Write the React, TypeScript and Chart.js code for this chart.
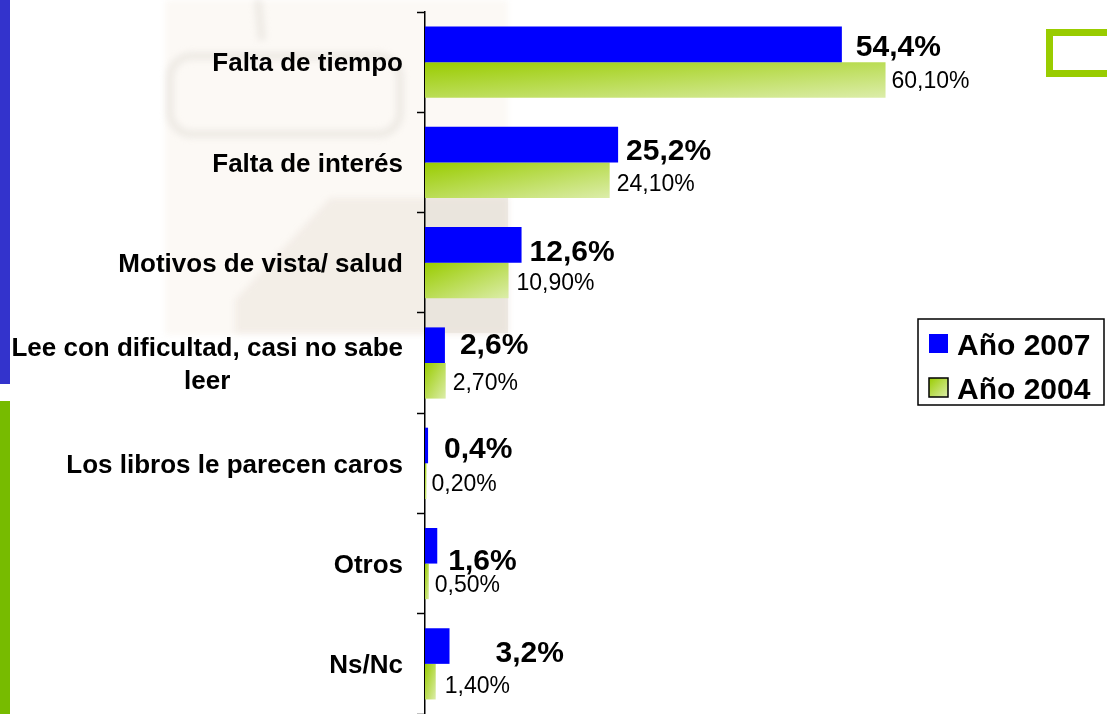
import { useEffect, useRef } from "react";
import { Chart, registerables } from "chart.js";

Chart.register(...registerables);

const categories: (string | string[])[] = [
  "Falta de tiempo",
  "Falta de interés",
  "Motivos de vista/ salud",
  ["Lee con dificultad, casi no sabe", "leer"],
  "Los libros le parecen caros",
  "Otros",
  "Ns/Nc",
];
const values2007 = [54.4, 25.2, 12.6, 2.6, 0.4, 1.6, 3.2];
const values2004 = [60.1, 24.1, 10.9, 2.7, 0.2, 0.5, 1.4];
const seriesNames = ["Año 2007", "Año 2004"];

// label placement (style): [dx from bar end, dy from bar centre]
const labelShift2007 = [[14, 1], [8, 5], [8, 5], [15, -2], [16, 2], [11, 13], [46, 5]];
const labelShift2004 = [[6, 0], [7, 3], [8, 1], [7, 1], [5, 2], [6, 2], [9, 3]];

const FONT = '"Liberation Sans", Arial, Helvetica, sans-serif';
const BLUE = "#0000ff";
const G0 = "#99cc00";
const G1 = "#dcedaa";
const CAP = 0.716;

const fmt = (v: number, d: number) => v.toFixed(d).replace(".", ",") + "%";

function diagGradient(ctx: CanvasRenderingContext2D, left: number, top: number, w: number, h: number) {
  const ww = Math.max(w, 1);
  const hh = Math.max(h, 1);
  const c = 2 / (1 / (ww * ww) + 1 / (hh * hh));
  const g = ctx.createLinearGradient(left, top, left + c / ww, top + c / hh);
  g.addColorStop(0, G0);
  g.addColorStop(1, G1);
  return g;
}

// draw text with its cap-height centred on y
function capText(ctx: CanvasRenderingContext2D, t: string, x: number, y: number, size: number) {
  ctx.fillText(t, x, y + (size * CAP) / 2);
}

const decorPlugin = {
  id: "decor",
  beforeDraw(chart: any) {
    const ctx: CanvasRenderingContext2D = chart.ctx;
    ctx.save();
    ctx.fillStyle = "#ffffff";
    ctx.fillRect(0, 0, chart.width, chart.height);
    // faint watermark
    ctx.filter = "blur(3px)";
    ctx.fillStyle = "rgba(250,245,238,0.6)";
    ctx.fillRect(165, 0, 343, 335);
    ctx.strokeStyle = "rgba(222,218,210,0.45)";
    ctx.lineWidth = 8;
    ctx.beginPath();
    (ctx as any).roundRect(170, 56, 230, 78, 22);
    ctx.stroke();
    ctx.beginPath();
    ctx.moveTo(258, 0);
    ctx.lineTo(262, 40);
    ctx.stroke();
    ctx.fillStyle = "rgba(232,225,216,0.45)";
    ctx.beginPath();
    ctx.moveTo(330, 198);
    ctx.lineTo(508, 198);
    ctx.lineTo(508, 333);
    ctx.lineTo(235, 333);
    ctx.lineTo(235, 300);
    ctx.closePath();
    ctx.fill();
    ctx.filter = "none";
    ctx.fillStyle = "rgba(225,218,208,0.45)";
    ctx.fillRect(426, 198, 82, 135);
    // left stripes
    ctx.fillStyle = "#3333cc";
    ctx.fillRect(0, 0, 10, 384);
    ctx.fillStyle = "#77bb00";
    ctx.fillRect(0, 401, 10, 313);
    // top-right green frame
    ctx.strokeStyle = "#99cc00";
    ctx.lineWidth = 7;
    ctx.strokeRect(1049.5, 32.5, 80, 41);
    ctx.restore();
  },
  beforeDatasetsDraw(chart: any) {
    const meta = chart.getDatasetMeta(1);
    meta.data.forEach((el: any) => {
      const p = el.getProps(["x", "y", "base", "height"], true);
      const left = Math.min(p.base, p.x);
      const w = Math.abs(p.x - p.base);
      const top = p.y - p.height / 2;
      el.options.backgroundColor = diagGradient(chart.ctx, left, top, w, p.height);
    });
  },
  afterDraw(chart: any) {
    const ctx: CanvasRenderingContext2D = chart.ctx;
    const ys = chart.scales.y;
    ctx.save();
    ctx.textBaseline = "alphabetic";
    // category labels
    ctx.fillStyle = "#000";
    ctx.font = `bold 26px ${FONT}`;
    ctx.textAlign = "center";
    categories.forEach((cat, i) => {
      const lines = Array.isArray(cat) ? cat : [cat];
      const yc = ys.getPixelForValue(i);
      const bw = Math.max(...lines.map((l) => ctx.measureText(l).width));
      const cx = 403 - bw / 2;
      const lh = 33;
      lines.forEach((l, j) => {
        capText(ctx, l, cx, yc - ((lines.length - 1) * lh) / 2 + j * lh, 26);
      });
    });
    // value labels
    ctx.textAlign = "left";
    const m0 = chart.getDatasetMeta(0);
    ctx.font = `bold 30px ${FONT}`;
    m0.data.forEach((el: any, i: number) => {
      const [dx, dy] = labelShift2007[i];
      capText(ctx, fmt(values2007[i], 1), el.x + dx, el.y + dy, 30);
    });
    const m1 = chart.getDatasetMeta(1);
    ctx.font = `23px ${FONT}`;
    m1.data.forEach((el: any, i: number) => {
      const [dx, dy] = labelShift2004[i];
      capText(ctx, fmt(values2004[i], 2), el.x + dx, el.y + dy, 23);
    });
    // legend
    ctx.fillStyle = "#fff";
    ctx.fillRect(918, 319, 186, 86);
    ctx.strokeStyle = "#000";
    ctx.lineWidth = 1.5;
    ctx.strokeRect(918, 319, 186, 86);
    ctx.fillStyle = BLUE;
    ctx.fillRect(929, 334, 19, 19);
    ctx.fillStyle = diagGradient(ctx, 929, 378, 19, 19);
    ctx.fillRect(929, 378, 19, 19);
    ctx.lineWidth = 1.5;
    ctx.strokeRect(929, 378, 19, 19);
    ctx.fillStyle = "#000";
    ctx.font = `bold 30px ${FONT}`;
    capText(ctx, seriesNames[0], 957, 344, 30);
    capText(ctx, seriesNames[1], 957, 388, 30);
    ctx.restore();
  },
};

export default function App() {
  const ref = useRef<HTMLCanvasElement>(null);
  useEffect(() => {
    if (!ref.current) return;
    const chart = new Chart(ref.current, {
      type: "bar",
      data: {
        labels: categories as any,
        datasets: [
          {
            label: seriesNames[0],
            data: values2007,
            backgroundColor: BLUE,
            borderWidth: 0,
          },
          {
            label: seriesNames[1],
            data: values2004,
            backgroundColor: () => "#b8dc66",
            borderWidth: 0,
          },
        ],
      },
      options: {
        indexAxis: "y",
        responsive: false,
        animation: false,
        events: [],
        layout: { padding: { top: 12, right: 0, bottom: 0, left: 0 } },
        datasets: { bar: { categoryPercentage: 0.71, barPercentage: 1 } },
        plugins: { legend: { display: false }, tooltip: { enabled: false }, title: { display: false } },
        scales: {
          x: { type: "linear", min: 0, max: 89, display: false },
          y: {
            offset: true,
            grid: {
              offset: true,
              drawOnChartArea: false,
              drawTicks: true,
              tickLength: 8,
              tickColor: "#000",
              tickWidth: 1.5,
            },
            border: { display: true, color: "#000", width: 1.5 },
            ticks: { color: "rgba(0,0,0,0)", font: { size: 1 }, padding: 0 },
            afterFit: (s: any) => {
              s.width = 425;
              s.paddingTop = 0;
              s.paddingBottom = 0;
            },
          },
        },
      },
      plugins: [decorPlugin],
    } as any);
    return () => chart.destroy();
  }, []);
  return (
    <div style={{ position: "absolute", left: 0, top: 0, width: 1107, height: 714, overflow: "hidden", background: "#fff" }}>
      <canvas ref={ref} width={1107} height={714} style={{ display: "block", width: 1107, height: 714 }} />
    </div>
  );
}
